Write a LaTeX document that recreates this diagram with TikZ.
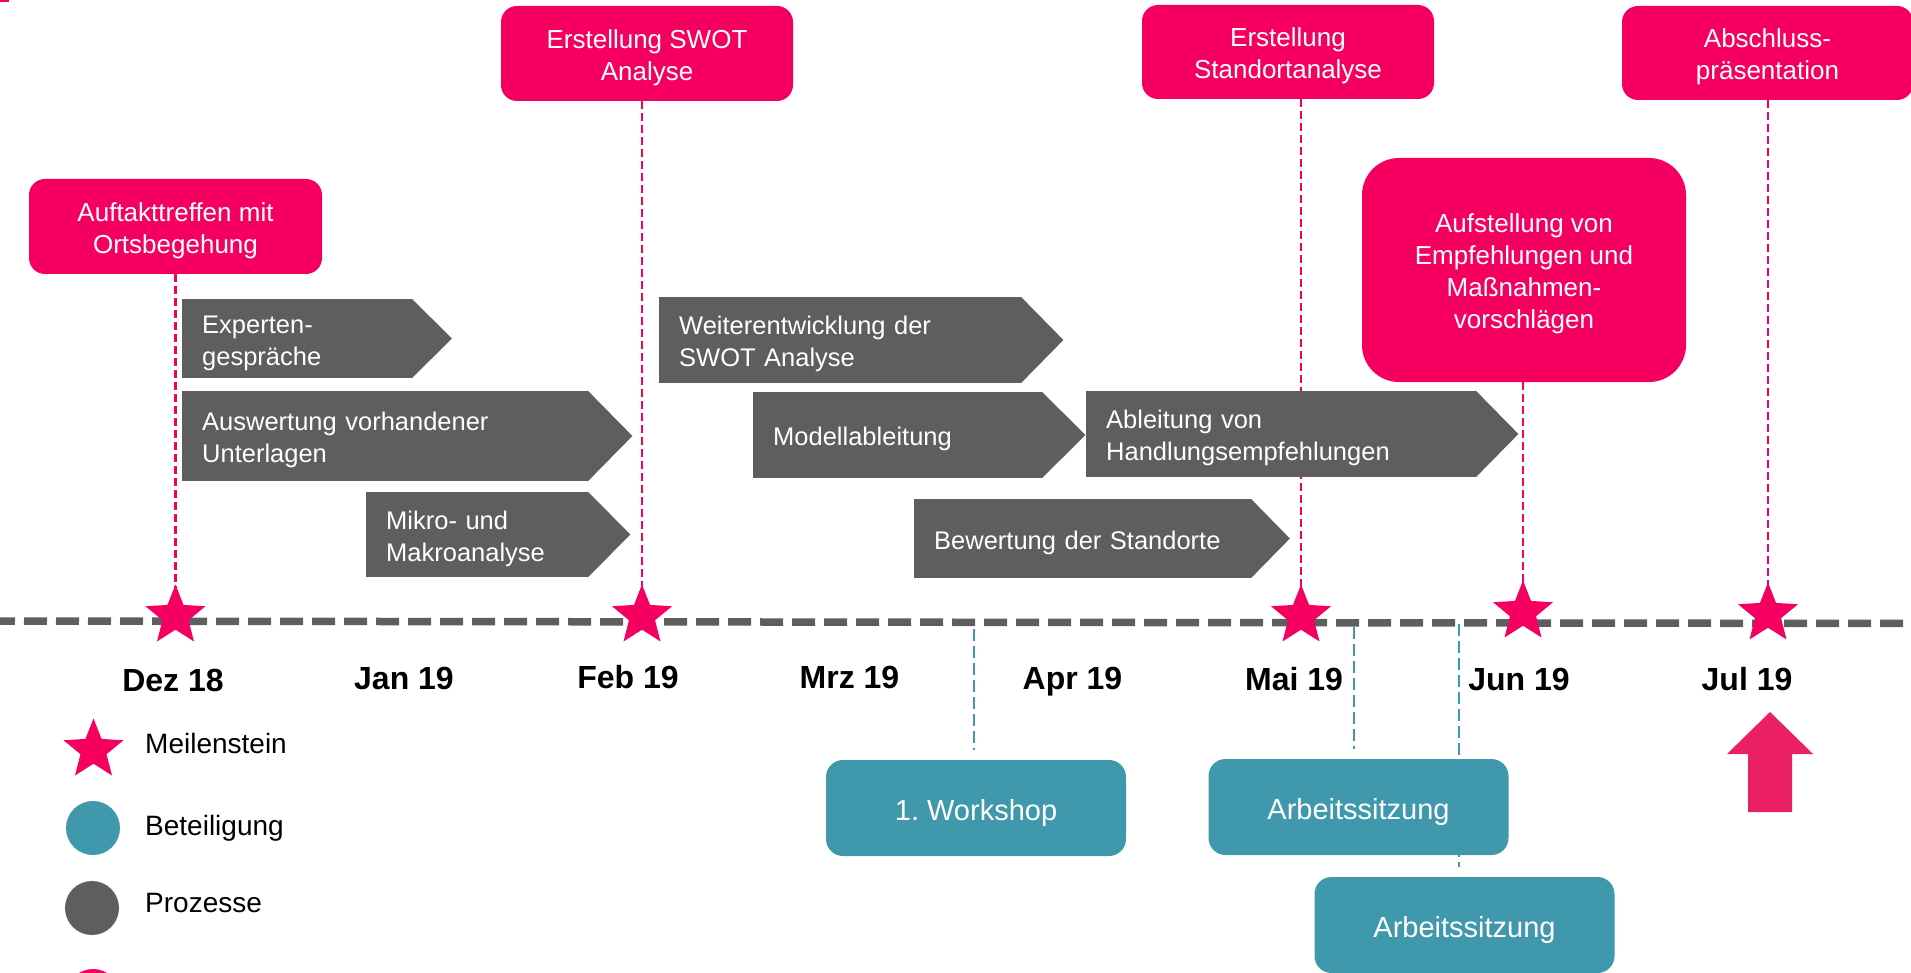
\documentclass[tikz,border=0pt]{standalone}
\usepackage{fontspec}
\setmainfont{Liberation Sans}
\usetikzlibrary{shapes.geometric,calc}
\pgfdeclarelayer{bg}
\pgfsetlayers{bg,main}
\definecolor{pinkM}{HTML}{F50060}
\definecolor{pinkA}{HTML}{EB1F64}
\definecolor{tealB}{HTML}{3F98AB}
\definecolor{grayP}{HTML}{5E5E5E}
\newcommand{\mystrut}{\rule{0pt}{1.04em}}
\frenchspacing
\begin{document}
\begin{tikzpicture}[x=1pt,y=-1pt,
  milebox/.style={fill=pinkM, rounded corners=16pt, text=white, align=center, inner sep=0pt, font=\fontsize{26}{32}\selectfont},
  tealbox/.style={fill=tealB, rounded corners=17pt, text=white, align=center, inner sep=0pt, font=\fontsize{29}{35}\selectfont, minimum width=300pt, minimum height=96pt},
  procbody/.style={fill=grayP, text=white, align=left, inner xsep=20pt, inner ysep=0pt, font=\fontsize{25.5}{32}\selectfont, anchor=west},
  proctip/.style={fill=grayP},
  mstar/.style={star, star points=5, star point ratio=2.3, minimum size=63pt, inner sep=0pt, fill=pinkM},
  pinkdash/.style={draw=pinkM, line width=2.5pt, dash pattern=on 8pt off 4pt},
  tealdash/.style={draw=tealB, line width=2.3pt, dash pattern=on 12pt off 5pt},
  timeline/.style={draw=grayP, line width=7.5pt, dash pattern=on 23pt off 9pt, dash phase=8pt},
  month/.style={font=\bfseries\fontsize{32}{38}\selectfont, anchor=base, inner sep=0pt},
  legtext/.style={font=\fontsize{28}{34}\selectfont, anchor=base west, inner sep=0pt},
  legdot/.style={circle, minimum size=54pt, inner sep=0pt}
]
\useasboundingbox (0,0) rectangle (1911,973);
\fill[pinkM] (0,0) rectangle (9,2.5);

% milestone boxes
\node[milebox, minimum width=293pt, minimum height=95pt] (auf) at (175.5,226.5) {\mystrut Auftakttreffen mit\\Ortsbegehung};
\node[milebox, minimum width=292pt, minimum height=95pt] (swot) at (647,53.5) {\mystrut Erstellung SWOT\\Analyse};
\node[milebox, minimum width=292pt, minimum height=94pt] (stand) at (1288,52) {\mystrut Erstellung\\Standortanalyse};
\node[milebox, minimum width=291pt, minimum height=94pt] (abs) at (1767.5,53) {\mystrut Abschluss-\\präsentation};
\node[milebox, rounded corners=37pt, minimum width=324pt, minimum height=224pt] (aufst) at (1524,270) {\mystrut Aufstellung von\\Empfehlungen und\\Maßnahmen-\\vorschlägen};

% timeline
\coordinate (tl0) at (0,621);
\coordinate (tl1) at (1911,623.5);
\draw[timeline] (tl0) -- (tl1);

% stars
\node[mstar] (s1) at (175.5,616) {};
\node[mstar] (s2) at (642,616) {};
\node[mstar] (s3) at (1301,616) {};
\node[mstar] (s4) at (1523,612) {};
\node[mstar] (s5) at (1768,614) {};

% process arrows
\node[procbody, text width=190pt, minimum height=79pt] (p1) at (182,338.5) {\mystrut Experten-\\gespräche};
\fill[proctip] ($(p1.north east)+(-0.5,0)$) -- ($(p1.east)+(39.5,0)$) -- ($(p1.south east)+(-0.5,0)$) -- cycle;
\node[procbody, text width=366pt, minimum height=90pt] (p2) at (182,436) {\mystrut Auswertung vorhandener\\Unterlagen};
\fill[proctip] ($(p2.north east)+(-0.5,0)$) -- ($(p2.east)+(44,0)$) -- ($(p2.south east)+(-0.5,0)$) -- cycle;
\node[procbody, text width=182pt, minimum height=85pt] (p3) at (366,534.5) {\mystrut Mikro- und\\Makroanalyse};
\fill[proctip] ($(p3.north east)+(-0.5,0)$) -- ($(p3.east)+(42,0)$) -- ($(p3.south east)+(-0.5,0)$) -- cycle;
\node[procbody, text width=322pt, minimum height=86pt] (p4) at (659,340) {\mystrut Weiterentwicklung der\\SWOT Analyse};
\fill[proctip] ($(p4.north east)+(-0.5,0)$) -- ($(p4.east)+(42,0)$) -- ($(p4.south east)+(-0.5,0)$) -- cycle;
\node[procbody, text width=249pt, minimum height=86pt] (p5) at (753,435) {\mystrut Modellableitung};
\fill[proctip] ($(p5.north east)+(-0.5,0)$) -- ($(p5.east)+(43,0)$) -- ($(p5.south east)+(-0.5,0)$) -- cycle;
\node[procbody, text width=350pt, minimum height=86pt] (p6) at (1086,434) {\mystrut Ableitung von\\Handlungsempfehlungen};
\fill[proctip] ($(p6.north east)+(-0.5,0)$) -- ($(p6.east)+(42,0)$) -- ($(p6.south east)+(-0.5,0)$) -- cycle;
\node[procbody, text width=297pt, minimum height=79pt] (p7) at (914,538.5) {\mystrut Bewertung der Standorte};
\fill[proctip] ($(p7.north east)+(-0.5,0)$) -- ($(p7.east)+(38.5,0)$) -- ($(p7.south east)+(-0.5,0)$) -- cycle;

% months
\node[month] (m1) at (173,691) {Dez 18};
\node[month] (m2) at (404,689) {Jan 19};
\node[month] (m3) at (628,688) {Feb 19};
\node[month] (m4) at (849.5,688) {Mrz 19};
\node[month] (m5) at (1072.5,689) {Apr 19};
\node[month] (m6) at (1294,690) {Mai 19};
\node[month] (m7) at (1519,690) {Jun 19};
\node[month] (m8) at (1747,690) {Jul 19};

% participation boxes
\node[tealbox] (ws) at (976,808) {\mystrut 1. Workshop};
\node[tealbox] (as1) at (1358.5,807) {\mystrut Arbeitssitzung};
\node[tealbox] (as2) at (1464.5,925) {\mystrut Arbeitssitzung};
\coordinate (wt) at (974,629);
\coordinate (a1t) at (1354,627);
\coordinate (a2t) at (1459,624);

% legend
\node[mstar] (lstar) at (93.5,750) {};
\node[legtext] (lmeil) at (145,753) {Meilenstein};
\node[legdot, fill=tealB] (lteal) at (93,828) {};
\node[legtext] (lbet) at (145,835) {Beteiligung};
\node[legdot, fill=grayP] (lgray) at (92,908) {};
\node[legtext] (lpro) at (145,912) {Prozesse};
\node[legdot, fill=pinkM] (lpink) at (93,996) {};

% final arrow
\fill[pinkA] (1770,712) -- (1813,754) -- (1792,754) -- (1792,812) -- (1748,812) -- (1748,754) -- (1727,754) -- cycle;

% connectors behind
\begin{pgfonlayer}{bg}
\draw[pinkdash] (auf.south) -- (s1.center);
\draw[pinkdash] (swot.south -| s2) -- (s2.center);
\draw[pinkdash] (stand.south -| s3) -- (s3.center);
\draw[pinkdash] (abs.south -| s5) -- (s5.center);
\draw[pinkdash] (aufst.south -| s4) -- (s4.center);
\draw[tealdash, shorten >=10pt] (wt) -- (wt |- ws.north);
\draw[tealdash, shorten >=10pt] (a1t) -- (a1t |- as1.north);
\draw[tealdash, shorten >=10pt] (a2t) -- (a2t |- as2.north);
\end{pgfonlayer}
\end{tikzpicture}
\end{document}
